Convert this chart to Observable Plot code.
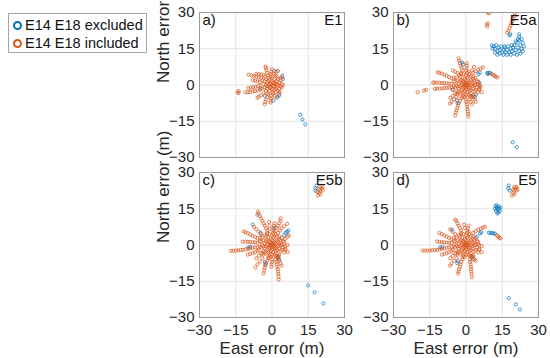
<!DOCTYPE html>
<html>
<head>
<meta charset="utf-8">
<script src="https://cdn.jsdelivr.net/npm/d3@7"></script>
<script src="https://cdn.jsdelivr.net/npm/@observablehq/plot@0.6"></script>
<style>
  html, body { margin: 0; padding: 0; background: #fff; }
  #root { position: relative; width: 550px; height: 358px; overflow: hidden; font-family: "Liberation Sans", Arial, Helvetica, sans-serif; }
  .pnl { position: absolute; }
  #legend { position: absolute; left: 8px; top: 13px; width: 137px; height: 38px; border: 1px solid #a6a6a6; background: #fff; font-size: 14.5px; color: #111; }
  .li { position: absolute; left: 0; height: 18px; line-height: 18px; white-space: nowrap; }
  .mk { position: absolute; left: 4px; top: 5px; width: 5px; height: 5px; border-radius: 50%; border: 2px solid; }
  .lt { position: absolute; left: 16px; top: 0; }
</style>
</head>
<body>
<div id="root">
  <div id="legend">
    <div class="li" style="top:2px"><span class="mk" style="border-color:#0072BD"></span><span class="lt">E14 E18 excluded</span></div>
    <div class="li" style="top:20px"><span class="mk" style="border-color:#D95319"></span><span class="lt">E14 E18 included</span></div>
  </div>
</div>
<script>
const ticks = [-30, -15, 0, 15, 30];
const gridTicks = [-15, 0, 15];
const panelLetters = ["a)", "b)", "c)", "d)"];
const panelNames = ["E1", "E5a", "E5b", "E5"];
const xLabel = "East error (m)";
const yLabel = "North error (m)";

// shared dense centre of the E5 clouds
const coreE5 = [[0,0],[1,1],[-1,1],[1,-1],[-1,-1],[2,0],[-2,0],[0,2],[0,-2],[2,2],[-2,2],[2,-2],[-2,-2],[3,0.5],[-3,0.5],[0.5,3],[0.5,-3],[3,-1.5],[-3,-1.5],[-1.5,3],[-1.5,-3],[3.5,2],[-3.5,2],[2,3.5],[2,-3.5],[-3.5,-2.5],[3.5,-2.5],[-2.5,-3.5],[-2.5,3.5],[4,0],[-4,0],[0,4],[0,-4],[4.5,1.5],[-4.5,1.5],[1.5,4.5],[1.5,-4.5],[-4.5,-1],[4.5,-1],[-1,4.5],[-1,-4.5],[3,3.5],[-3,4],[3,-4],[-3.5,-4],[5,0.5],[-5,-0.5],[0.5,5],[-0.5,-5],[-5,3],[5,-3],[-2,5],[2,-5],[1,0],[-1,0],[0,1],[0,-1],[1.5,-2.5],[-2.5,1.5],[2.5,1],[-1,-3.5],
  [0.5,0.5],[-0.5,0.5],[0.5,-0.5],[-0.5,-0.5],[1.5,1.5],[-1.5,1.5],[1.5,-1.5],[-1.5,-1.5],[2.5,-0.5],[-2.5,-0.5],[-0.5,2.5],[-0.5,-2.5],[3.5,0],[-3.5,-0.5],[1,3.5],[1,-4],[-4,3],[4,-2],[-2,4.5],[3,2.5],[-3,-3],[4,3],[-4,-3.5],[2.5,-4.5],[-5,1.5],[5,1.5],[-1.5,-5],[1,5.5],[-5.5,-2],[5.5,-1.5]];

// a) E1
const e1Included = [[0,0],[-1,0.5],[1,-0.5],[-0.5,-1],[0.5,1],[-1.5,-0.5],[1.5,0.5],[0,1.5],[0,-1.5],[-2,1],[2,-1],[-1,2],[1,-2],[-2,-1.5],[2,1.5],[-1,-2.5],[1,2.5],[-2.5,0],[2.5,0],[-3,1.5],[3,-1.5],[-3,-1],[3,1],[-1.5,3],[1.5,-3],[-2.5,2.5],[2.5,-2.5],[-2.5,-2.5],[2.5,2.5],[0,3],[0,-3],[-3.5,0.5],[3.5,-0.5],[-0.5,3.5],[0.5,-3.5],[-4,-1.5],[3.5,2],[-1.5,4],[1.5,4],[-3,3.5],[3,-3.5],[-2,-3.5],[2,3.5],[-4,2],[4,-1],
  [0.5,-0.5],[-0.5,0.5],[1,1],[-1,-1],[1.5,-1.5],[-1.5,1.5],[2,0.5],[-2,-0.5],
  [-4.5,2.8],[-5.5,3.2],[-6.5,3.5],[-7.5,3.8],[-8.5,4],[-9.7,4.3],
  [-5,1.2],[-6,1.5],[-7,1.8],[-8,2],
  [-4.8,-0.3],[-5.8,-0.5],[-6.8,-0.7],[-7.8,-0.9],[-8.8,-1.1],[-9.8,-1.3],
  [-5,-2],[-6,-2.3],[-7,-2.5],[-8,-2.7],[-9,-2.9],[-10,-3],[-11,-3],
  [-13.8,-2.5],[-14.2,-3],[-13.9,-3.4],
  [-3.5,-3.5],[-4.5,-4.2],[-5.5,-4.8],[-6,-5.3],
  [-1.5,-4],[-2,-5],[-2.5,-6],[-2.8,-7],[-3,-8],
  [-0.5,-4.5],[-0.5,-5.5],[-0.6,-6.5],[-0.6,-7.3],
  [1,-4.5],[1.8,-5.2],
  [-2,5],[-2.3,6],[-2.5,7],[-2.7,7.6],
  [-0.5,4.5],[-0.3,5.5],[0,6.5],
  [1,4.5],[1.8,5.5],[2.5,5.8],
  [3.5,2.8],[4.2,3.2],[4.2,0.5],[4.5,-0.2],[3.2,-2.8],
  [-3.5,4.2],[-4.5,4.4],[-5.5,4.5],[-6.5,4.6]];
const e1Excluded = [[4.3,3.9],[4.5,2.5],[2.3,-5],[3,-4.2],[-4.7,-1.4],[-3,-4.5],[1,5.8],[0.5,-6.5],[11.7,-12.3],[12.6,-14.3],[13.8,-16.3]];

// b) E5a
const e5aIncluded = coreE5.concat([
  [-6,2.8],[-7,3.3],[-8,3.8],[-9,4.3],[-10,4.7],[-11,5],[-11.8,5.3],
  [-6,0.5],[-7,0.6],[-8,0.7],[-9,0.8],[-10,0.8],[-11,0.9],[-12,1],[-13,1],[-13.6,1],
  [-6,-1],[-7,-1.1],[-8,-1.2],[-9,-1.3],[-10,-1.4],[-11,-1.5],[-12,-1.5],[-12.9,-1.6],
  [-16.5,-2],[-17.3,-2.3],[-20,-3],
  [-4,-5],[-5,-6],[-6,-7],[-6.6,-7.7],
  [-2,-5.5],[-2.5,-6.5],[-3,-7.5],[-3.3,-8.5],[-3.6,-9.5],[-4,-10.5],[-4.2,-11.5],[-4.5,-12.6],
  [0,-6],[0.2,-7],[0.4,-8],[0.5,-9],[0.6,-10],[0.8,-11],[0.9,-12],[1,-13],
  [1.5,-6],[2,-7],[2.5,-8],
  [-1.5,6],[-1.8,7],[-2.2,8],[-2.5,9],[-2.8,10],[-3,11],
  [0,6],[0.2,7],[0.3,8],[0.3,9],
  [3,5],[4,5.7],[5,6.3],[6,6.8],[7,7.3],
  [5.5,0],[5.7,-1],[6,-0.5],
  [3,-5],[3.5,-6],[4,-7],
  [-3.5,5],[-4.5,5.5],[-5.5,6],
  [-4.5,-3.5],[-5.5,-4.5],[-6.5,-5.3],
  [5.5,-2],[6.5,-3],[2.5,6],[3.3,7.5],
  [10.5,4.6],[11.2,4.2],[11.8,3.8],[12.4,3.4],[13,3.1],
  [9,30],[9.5,29.7],[8.6,25],[8.8,24.2],[9,25.5],
  [17,21.7],[17.5,22.5],[18,23.5],[18.4,24.5],[18.8,25.5],[19.2,26.5],[19.6,27.5],[20,28.5],[20.3,29.5],[20.6,30.5]]);
const e5aExcluded = [[-1.6,9.3],[-1.2,8.5],[5.7,5.2],[5.2,4.5],[-3.7,-6.4],[-3.5,-7.5],[3.7,-5],[4,-4],[-5.5,-2],[5.5,1],
  [8.8,5],[9.4,5],[10,5],[9,4.5],
  [10.7,16.3],[11.5,16],[12,15],[11,15],[12.5,16.5],[13,14],[13.5,15.5],[14,13],[14,14.5],[14.5,16],[15,13.5],[15.5,14.5],[15.5,12.5],[16,15.5],[16.5,13.5],[17,14.5],[17,12.5],[17.5,16],[18,13.5],[18.5,15],[18.5,12.5],[19,14],[19.5,15.5],[20,13],[20,16.5],[20.5,14.5],[21,12.5],[21,17.5],[21.5,15.5],[22,14],[22,18.5],[22.5,16.5],[22.5,13],[23,15],[23,19],[23.5,17.5],[23.5,14],[22,20],[21.5,19],[24,16],[13,12.5],[12,13.5],[16,16],[19,16.5],[20.5,18],
  [18,20.5],[18.3,21],[22,21],
  [19.3,-23.7],[21,-25.7]];

// c) E5b
const e5bIncluded = coreE5.concat([
  [-6,-0.8],[-7,-1],[-8,-1.2],[-9,-1.4],[-10,-1.6],[-11,-1.8],[-12,-2],[-13,-2.1],[-14,-2.2],[-15,-2.3],[-16,-2.4],[-17,-2.4],
  [-2,6],[-2.5,7],[-3,8],[-3.5,9],[-4,10],[-4.5,11],[-5,12],[-5.5,13],[-5.8,13.8],
  [0.5,6],[0.5,7],[0.8,8],[1,9],
  [-1,6.5],[-1,8],[-1.2,9.5],
  [2.5,5],[3.3,6],[4,7],[5,7.8],[6.3,8.8],
  [5.5,2.5],[6.5,3.5],[7,4],
  [5.5,-0.5],[6.5,0],
  [1.5,-6],[1.8,-7],[2,-8],[2.2,-9],[2.4,-10],[2.5,-11],[2.6,-12],[2.7,-13],[2.8,-14.3],
  [-1.5,-5.5],[-2,-6.5],[-2.5,-7.5],[-2.8,-8.5],[-3,-9.5],[-3.3,-10.5],[-3.5,-11.8],
  [-4,-5.5],[-5,-6.8],[-6,-8],[-6.8,-9.3],
  [-6,2.8],[-7,3.3],[-8,3.8],[-9,4.3],[-10,4.8],[-11,5.3],[-11.7,5.6],
  [-6,1],[-7,1.1],[-8,1.2],[-9,1.3],[-10,1.3],[-11,1.4],[-12.2,1.4],
  [-6,-2.5],[-7,-3],[-8,-3.3],[-9,-3.7],[-10,-4],
  [0,-6],[0,-7],[-0.2,-8],[-0.3,-9],
  [2,7],[2.5,8],[3,9],[3.5,10],[3.5,11],
  [-4.5,4.5],[-5.5,5.5],[-6.5,6.5],[-7.5,7.5],
  [2.5,-5.5],[3,-6.5],[3.5,-7.5],[4,-8.5],
  [-4.5,-3.5],[-5.5,-4.5],[-6.5,-5.5],
  [5.5,-2],[6.5,-3],
  [19,20.5],[19.5,21.5],[20,22.5],[20.5,23.5],[21,24],[19.5,23],[20,24],[18.8,22],[21,22.5],[20,21]]);
const e5bExcluded = [[-6,12.5],[-8,8.5],[-4.7,5],[5.6,5],[6.2,5.5],[6.8,6],[5,4],[2.7,-5],[3,-6],[-2.7,-8],[-3,-7],[-9.7,-1],[-9,-0.7],[1,7],
  [18.4,24.6],[18,23.5],[18,22.5],
  [15,-16.7],[17.6,-19.6],[21.3,-24.2]];

// d) E5
const e5Included = coreE5.concat([
  [-6,-0.8],[-7,-1],[-8,-1.2],[-9,-1.4],[-10,-1.6],[-11,-1.8],[-12,-2],[-13,-2.1],[-14,-2.2],[-15,-2.3],[-16,-2.3],[-17,-2.3],[-18,-2.3],
  [-2,6],[-2.5,7],[-3,8],[-3.5,9],[-4,10],[-4.5,10.5],
  [3,5],[4,5.7],[5,6.3],[6,6.8],[7,7.2],[7.8,7.6],
  [1.5,-6],[1.7,-7],[1.9,-8],[2,-9],[2.1,-10],[2.2,-11],[2.3,-12],[2.5,-13.4],
  [-4,-5.5],[-5,-6.5],[-6,-7.7],[-6.6,-8.5],
  [-1.5,-6],[-2,-7],[-2.3,-8],[-2.6,-9],[-2.9,-10],[-3.1,-11],[-3.3,-11.8],
  [-6,2.5],[-7,3],[-8,3.5],[-9,4],[-10,4.5],[-11,5],
  [-6,0.8],[-7,0.9],[-8,1],[-9,1.1],[-10,1.2],[-11,1.3],[-12,1.5],
  [-6,-2.5],[-7,-3],[-8,-3.3],[-9,-3.7],[-10,-4],
  [0.5,6],[0.8,7],[1,8],
  [5.5,0],[6.5,-0.5],
  [3,-5],[3.5,-6],[4,-6.5],
  [-4.5,4.5],[-5.5,5.5],[-6.5,6.5],
  [-4.5,-3.5],[-5.5,-4.5],[-6.5,-5.5],
  [5.5,-2],[6.5,-3],[-0.5,7],[-0.8,8.5],
  [12.8,4],[13.3,3.5],[13.8,3],[14.2,2.7],
  [19,20.5],[19.5,21.5],[20,22.5],[20.5,23.5],[21,24],[19.5,23],[20,24],[21,22.5],[20,21],[21.3,23]]);
const e5Excluded = [[-5.8,6.3],[5.8,4.8],[6.3,5.3],[2.5,-5.1],[2.8,-6],[-3.3,-6.7],[-3.6,-7.5],[-10.7,-1],[-9.8,-0.8],[4.5,3.5],
  [9.5,5.1],[10.2,5],[10.8,4.9],[11.4,4.8],[12,4.7],
  [12,15],[12.5,14],[12.8,15.5],[13,14.8],[13.3,13.5],[13.5,16],[13.8,15],[12.2,16],[14,14],[13,13],[12.6,16.5],[14.2,15.5],
  [17.7,24.6],[17.5,23.5],[18,22.5],
  [17.7,-22],[20.6,-24.6],[22.3,-26.7]];

const BLUE = "#0072BD", ORANGE = "#D95319";

function panel(i, incl, excl, left, top, bottom, leftCol) {
  const height = bottom ? 197 : 160;
  const marks = [
    Plot.gridX(gridTicks, {stroke: "#e3e3e3", strokeOpacity: 1}),
    Plot.gridY(gridTicks, {stroke: "#e3e3e3", strokeOpacity: 1}),
    Plot.dot(excl, {x: d => d[0], y: d => d[1], r: 1.6, stroke: BLUE, strokeWidth: 0.7, clip: true}),
    Plot.dot(incl, {x: d => d[0], y: d => d[1], r: 1.6, stroke: ORANGE, strokeWidth: 0.7, clip: true}),
    Plot.frame({stroke: "#9a9a9a"}),
    Plot.axisY(ticks, {tickSize: 0, tickPadding: 5, fill: "#262626"}),
    Plot.text([panelLetters[i]], {text: d => d, frameAnchor: "top-left", dx: 3, dy: 2, fontSize: 15, fill: "#111", lineAnchor: "top"}),
    Plot.text([panelNames[i]], {text: d => d, frameAnchor: "top-right", dx: -2, dy: 2, fontSize: 15, fill: "#111", lineAnchor: "top"})
  ];
  if (bottom) {
    marks.push(Plot.axisX(ticks, {tickSize: 0, tickPadding: 7, fill: "#262626"}));
    marks.push(Plot.text([xLabel], {text: d => d, frameAnchor: "bottom", dy: 24, lineAnchor: "top", fontSize: 17, fill: "#262626"}));
  }
  if (leftCol) {
    marks.push(Plot.text([yLabel], {text: d => d, frameAnchor: "left", dx: -36, dy: -2, rotate: -90, fontSize: 17, fill: "#262626"}));
  }
  const svg = Plot.plot({
    width: 200,
    height,
    marginLeft: 49,
    marginRight: 6,
    marginTop: 12,
    marginBottom: bottom ? 40 : 3,
    x: {domain: [-30, 30], axis: null},
    y: {domain: [-30, 30], axis: null},
    style: {fontFamily: '"Liberation Sans", Arial, Helvetica, sans-serif', fontSize: "15px", background: "transparent", overflow: "visible"},
    marks
  });
  svg.classList.add("pnl");
  svg.style.position = "absolute";
  svg.style.left = left + "px";
  svg.style.top = top + "px";
  document.getElementById("root").appendChild(svg);
}

panel(0, e1Included, e1Excluded, 150, 0, false, true);
panel(1, e5aIncluded, e5aExcluded, 344, 0, false, false);
panel(2, e5bIncluded, e5bExcluded, 150, 160, true, true);
panel(3, e5Included, e5Excluded, 344, 160, true, false);
</script>
</body>
</html>
